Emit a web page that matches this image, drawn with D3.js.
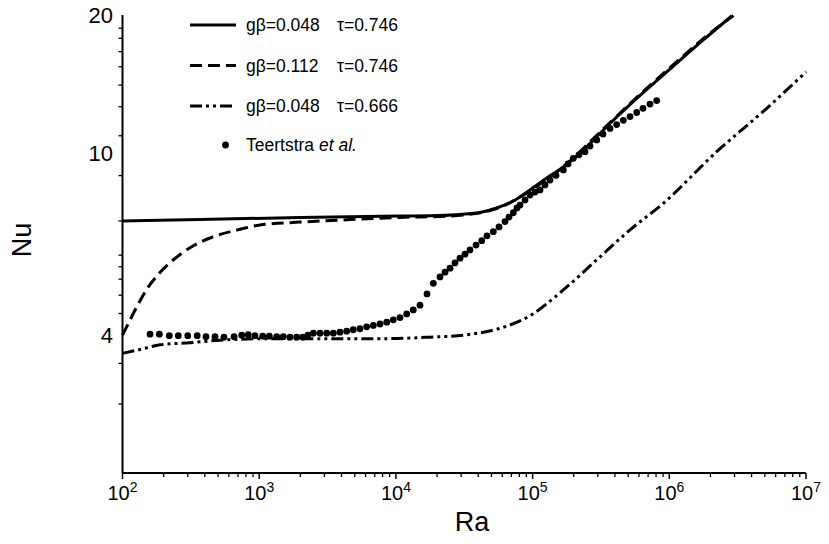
<!DOCTYPE html>
<html>
<head>
<meta charset="utf-8">
<script src="https://cdn.jsdelivr.net/npm/d3@7"></script>
<style>
  html, body { margin: 0; padding: 0; background: #fff; }
  svg { display: block; font-family: Arial, "Liberation Sans", sans-serif; }
</style>
</head>
<body>
<svg id="chart" width="829" height="544"></svg>
<script>
// ---------- data ----------
const raTicks = [1e2, 1e3, 1e4, 1e5, 1e6, 1e7];
const raTickExponents = ["2", "3", "4", "5", "6", "7"];
const raMinorTicks = [];
[1e2, 1e3, 1e4, 1e5, 1e6].forEach(d => { for (let k = 2; k <= 9; k++) raMinorTicks.push(d * k); });
const nuTicks = [20, 10, 4];
const nuTickLabels = ["20", "10", "4"];
const nuMinorTicks = [18.71, 17.79, 16.63, 15.42, 14.06, 12.61, 10.90, 8.92, 7.10, 5.98, 5.64, 5.30, 4.89, 4.46, 3.47, 2.83];

// gβ=0.048 τ=0.746 (solid)
const solidRa = [100, 369, 1988, 10715, 17760, 29440, 41220, 54620, 72250, 95720, 126800, 167800, 222200, 329000, 577500, 1012000, 1773000, 2860000];
const solidNu = [7.10, 7.15, 7.23, 7.28, 7.29, 7.34, 7.41, 7.58, 7.85, 8.30, 8.81, 9.32, 9.97, 11.22, 13.15, 15.24, 17.64, 19.90];

// gβ=0.112 τ=0.746 (dashed)
const dashRa = [100, 112, 127, 154, 188, 242, 330, 461, 724, 1014, 1988, 4616, 10715, 24880, 54620, 95720, 167800, 329000, 577500, 1012000, 1773000, 2949000];
const dashNu = [4.00, 4.28, 4.61, 5.09, 5.48, 5.88, 6.27, 6.56, 6.81, 6.96, 7.06, 7.15, 7.23, 7.28, 7.56, 8.27, 9.33, 11.27, 13.22, 15.35, 17.76, 19.95];

// gβ=0.048 τ=0.666 (dash-dot-dot)
const ddRa = [100, 134, 188, 312, 517, 1199, 2785, 8570, 17760, 31120, 54620, 95720, 167800, 294400, 515900, 903800, 2222000, 5159000, 10000000];
const ddNu = [3.65, 3.72, 3.81, 3.85, 3.90, 3.93, 3.93, 3.93, 3.96, 4.00, 4.12, 4.41, 5.02, 5.84, 6.79, 7.76, 10.06, 12.51, 15.02];

// Teertstra et al. (points)
const teerRa = [159, 186, 220, 256, 300, 352, 408, 475, 552, 655, 745, 832, 931, 1061, 1186, 1343, 1500, 1679, 1880, 2080,
  2270, 2488, 2786, 3119, 3486, 3899, 4365, 4877, 5458, 6109, 6839, 7656, 8570, 9572, 10715, 11995, 13397, 15000,
  16890, 18780, 21020, 22870, 24880, 27060, 29440, 32020, 34840, 38550, 42440, 46390, 51590, 56780, 62840, 67200,
  72250, 76900, 80870, 87990, 95720, 104100, 113300, 123200, 134100, 148300, 167800, 181600, 198600, 218500,
  241700, 263000, 294400, 327300, 368300, 412300, 460800, 515900, 577500, 642200, 722500, 808600];
const teerNu = [4.02, 4.02, 3.99, 3.99, 3.99, 3.99, 3.97, 3.97, 3.96, 3.97, 4.00, 4.01, 3.99, 3.98, 3.98, 3.97, 3.97, 3.96, 3.96, 3.96,
  4.00, 4.04, 4.04, 4.04, 4.04, 4.06, 4.08, 4.11, 4.13, 4.17, 4.20, 4.23, 4.27, 4.32, 4.37, 4.45, 4.54, 4.65,
  4.92, 5.19, 5.36, 5.49, 5.60, 5.75, 5.89, 6.01, 6.14, 6.29, 6.43, 6.59, 6.73, 6.89, 7.08, 7.24,
  7.40, 7.58, 7.69, 7.89, 8.09, 8.21, 8.30, 8.51, 8.72, 8.93, 9.18, 9.46, 9.73, 9.90,
  10.06, 10.35, 10.67, 10.99, 11.31, 11.53, 11.78, 12.00, 12.25, 12.51, 12.78, 13.01];

const legendRows = [
  { a: "gβ=0.048", b: "τ=0.746", dash: null },
  { a: "gβ=0.112", b: "τ=0.746", dash: "12,6" },
  { a: "gβ=0.048", b: "τ=0.666", dash: "12,4,3,4,3,4" }
];

// ---------- drawing ----------
const svg = d3.select("#chart");
const x = d3.scaleLog().domain([1e2, 1e7]).range([122.5, 806]);
const y = d3.scaleLog().domain([2, 20]).range([473, 15]);

const zip = (a, b) => a.map((v, i) => [v, b[i]]);
const line = d3.line().x(d => x(d[0])).y(d => y(d[1])).curve(d3.curveMonotoneX);

const curves = [
  { data: zip(solidRa, solidNu), dash: null },
  { data: zip(dashRa, dashNu), dash: "12,6" },
  { data: zip(ddRa, ddNu), dash: "12,4,3,4,3,4" }
];
svg.append("g").selectAll("path").data(curves).join("path")
  .attr("d", d => line(d.data))
  .attr("fill", "none")
  .attr("stroke", "#000")
  .attr("stroke-width", 3)
  .attr("stroke-dasharray", d => d.dash);

svg.append("g").selectAll("circle").data(zip(teerRa, teerNu)).join("circle")
  .attr("cx", d => x(d[0])).attr("cy", d => y(d[1])).attr("r", 3.4).attr("fill", "#000");

// axes
const ax = svg.append("g").attr("stroke", "#000");
ax.append("line").attr("x1", x(1e2)).attr("x2", x(1e7)).attr("y1", y(2)).attr("y2", y(2)).attr("stroke-width", 2);
ax.append("line").attr("x1", x(1e2)).attr("x2", x(1e2)).attr("y1", y(2)).attr("y2", y(20)).attr("stroke-width", 2);
ax.selectAll(".xmaj").data(raTicks).join("line")
  .attr("x1", d => x(d)).attr("x2", d => x(d)).attr("y1", y(2)).attr("y2", y(2) + 6).attr("stroke-width", 1.5);
ax.selectAll(".xmin").data(raMinorTicks).join("line")
  .attr("x1", d => x(d)).attr("x2", d => x(d)).attr("y1", y(2)).attr("y2", y(2) + 4).attr("stroke-width", 1.3);
ax.selectAll(".ymin").data(nuMinorTicks).join("line")
  .attr("x1", x(1e2) - 4).attr("x2", x(1e2)).attr("y1", d => y(d)).attr("y2", d => y(d)).attr("stroke-width", 1.3);

// x tick labels
const xl = svg.append("g").attr("font-size", 20).attr("fill", "#000");
raTicks.forEach((t, i) => {
  const tx = xl.append("text").attr("x", x(t)).attr("y", 500).attr("text-anchor", "middle");
  tx.append("tspan").text("10");
  tx.append("tspan").attr("dy", -8).attr("font-size", 14).text(raTickExponents[i]);
});
// y tick labels
svg.append("g").selectAll("text").data(nuTicks).join("text")
  .attr("x", 113).attr("y", d => y(d)).attr("dy", "0.35em")
  .attr("text-anchor", "end").attr("font-size", 22).text((d, i) => nuTickLabels[i]);

// axis titles
svg.append("text").attr("x", 472).attr("y", 531).attr("text-anchor", "middle").attr("font-size", 27).text("Ra");
svg.append("text").attr("transform", "translate(31,240) rotate(-90)").attr("text-anchor", "middle")
  .attr("font-size", 27).text("Nu");

// legend
const lg = svg.append("g");
legendRows.forEach((r, i) => {
  const ly = 25 + i * 40.5;
  lg.append("line").attr("x1", 190).attr("x2", 236).attr("y1", ly).attr("y2", ly)
    .attr("stroke", "#000").attr("stroke-width", 3).attr("stroke-dasharray", r.dash);
  lg.append("text").attr("x", 246).attr("y", ly).attr("dy", "0.35em").attr("font-size", 17.5).text(r.a);
  lg.append("text").attr("x", 337).attr("y", ly).attr("dy", "0.35em").attr("font-size", 17.5).text(r.b);
});
lg.append("circle").attr("cx", 225.5).attr("cy", 145).attr("r", 3.4).attr("fill", "#000");
const tt = lg.append("text").attr("x", 246).attr("y", 145).attr("dy", "0.35em").attr("font-size", 17.5);
tt.append("tspan").text("Teertstra ");
tt.append("tspan").attr("font-style", "italic").text("et al.");
</script>
</body>
</html>
